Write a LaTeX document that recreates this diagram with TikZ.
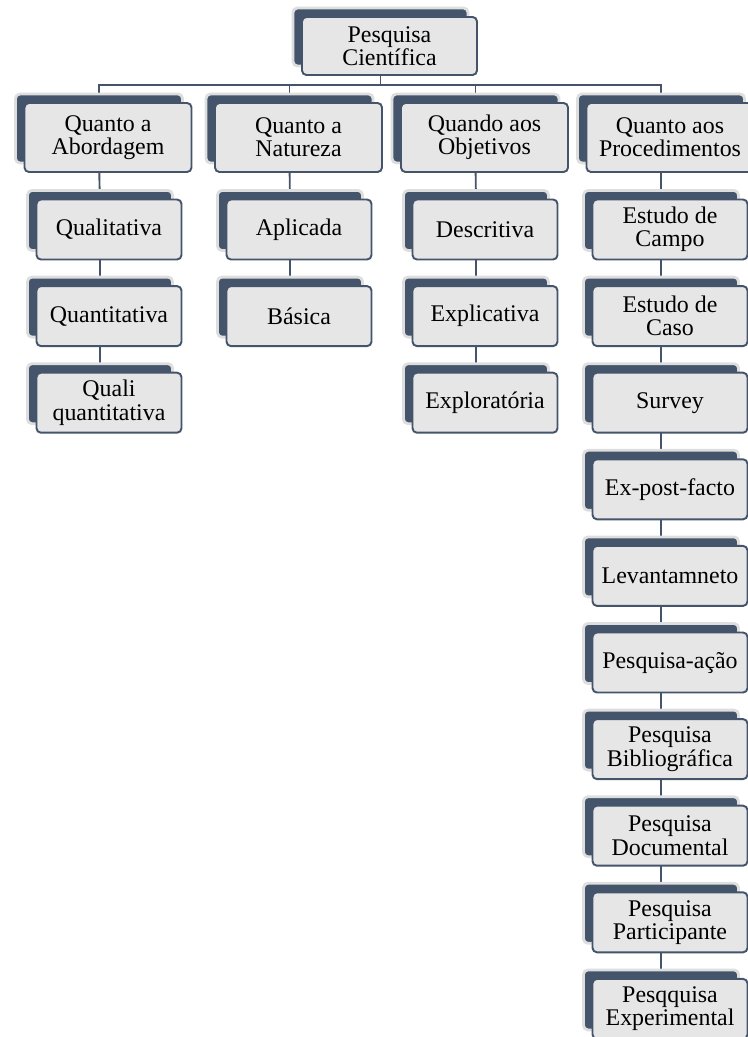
\documentclass[tikz,border=0pt]{standalone}
\usepackage{fontspec}
\setmainfont{Liberation Serif}
\usepackage{xcolor}
\usepackage{tikz}
\usetikzlibrary{calc, shadows, backgrounds}

\definecolor{slate}{HTML}{44546A}
\definecolor{boxgray}{HTML}{E7E6E6}
\definecolor{rimgray}{HTML}{DEDEDE}

\begin{document}
\begin{tikzpicture}[x=0.02cm, y=-0.02cm,
    cardbox/.style={draw=slate, fill=boxgray, line width=1.1pt, rounded corners=2.5pt,
        align=center, inner sep=1pt, font=\fontsize{13.6}{13.2}\selectfont,
        copy shadow={shadow xshift=-0.18cm, shadow yshift=0.18cm, fill=slate, draw=rimgray, line width=1.6pt}},
    rootbox/.style={cardbox, minimum width=3.5cm, minimum height=1.16cm},
    groupbox/.style={cardbox, minimum width=3.34cm, minimum height=1.38cm},
    itembox/.style={cardbox, minimum width=2.9cm, minimum height=1.2cm},
    wideitembox/.style={cardbox, minimum width=3.1cm, minimum height=1.2cm},
    link/.style={draw=slate, line width=1.1pt}]
    \useasboundingbox (0, 0) rectangle (747, 1037);

    \node[rootbox] at (389.5, 46) (science) {Pesquisa\\Científica};

    \node[groupbox] at (108, 137.5) (approach) {Quanto a\\Abordagem};
    \node[groupbox] at (298.5, 137.5) (nature) {Quanto a\\Natureza};
    \node[groupbox] at (484.5, 137.5) (goals) {Quando aos\\Objetivos};
    \node[groupbox] at (670, 137.5) (methods) {Quanto aos\\Procedimentos};

    \node[itembox] at (109, 229.5) (qualit) {Qualitativa};
    \node[itembox] at (109, 316.1) (quantit) {Quantitativa};
    \node[itembox] at (109, 402.7) (mixed) {Quali\\quantitativa};

    \node[itembox] at (299, 229.5) (applied) {Aplicada};
    \node[itembox] at (299, 316.1) (basic) {Básica};

    \node[itembox] at (485, 229.5) (descr) {Descritiva};
    \node[itembox] at (485, 316.1) (explan) {Explicativa};
    \node[itembox] at (485, 402.7) (explor) {Exploratória};

    \node[wideitembox] at (670, 229.5) (field) {Estudo de\\Campo};
    \node[wideitembox] at (670, 316.1) (casestudy) {Estudo de\\Caso};
    \node[wideitembox] at (670, 402.7) (survey) {Survey};
    \node[wideitembox] at (670, 489.3) (expost) {Ex-post-facto};
    \node[wideitembox] at (670, 575.9) (levant) {Levantamneto};
    \node[wideitembox] at (670, 662.5) (action) {Pesquisa-ação};
    \node[wideitembox] at (670, 749.1) (biblio) {Pesquisa\\Bibliográfica};
    \node[wideitembox] at (670, 835.7) (docum) {Pesquisa\\Documental};
    \node[wideitembox] at (670, 922.3) (particip) {Pesquisa\\Participante};
    \node[wideitembox] at (670, 1008.9) (experim) {Pesqquisa\\Experimental};

    \begin{scope}[on background layer]
    \draw[link] ($(science.south)+(-9,0)$) -- ++(0,9) -| ($(approach.north)+(-9,0)$);
    \draw[link] ($(science.south)+(-9,0)$) -- ++(0,9) -| ($(nature.north)+(-9,0)$);
    \draw[link] ($(science.south)+(-9,0)$) -- ++(0,9) -| ($(goals.north)+(-9,0)$);
    \draw[link] ($(science.south)+(-9,0)$) -- ++(0,9) -| ($(methods.north)+(-9,0)$);

    \draw[link] ($(approach)+(-9,0)$) -- ($(qualit)+(-9,0)$);
    \draw[link] ($(qualit)+(-9,0)$) -- ($(quantit)+(-9,0)$);
    \draw[link] ($(quantit)+(-9,0)$) -- ($(mixed)+(-9,0)$);

    \draw[link] ($(nature)+(-9,0)$) -- ($(applied)+(-9,0)$);
    \draw[link] ($(applied)+(-9,0)$) -- ($(basic)+(-9,0)$);

    \draw[link] ($(goals)+(-9,0)$) -- ($(descr)+(-9,0)$);
    \draw[link] ($(descr)+(-9,0)$) -- ($(explan)+(-9,0)$);
    \draw[link] ($(explan)+(-9,0)$) -- ($(explor)+(-9,0)$);

    \draw[link] ($(methods)+(-9,0)$) -- ($(field)+(-9,0)$);
    \draw[link] ($(field)+(-9,0)$) -- ($(casestudy)+(-9,0)$);
    \draw[link] ($(casestudy)+(-9,0)$) -- ($(survey)+(-9,0)$);
    \draw[link] ($(survey)+(-9,0)$) -- ($(expost)+(-9,0)$);
    \draw[link] ($(expost)+(-9,0)$) -- ($(levant)+(-9,0)$);
    \draw[link] ($(levant)+(-9,0)$) -- ($(action)+(-9,0)$);
    \draw[link] ($(action)+(-9,0)$) -- ($(biblio)+(-9,0)$);
    \draw[link] ($(biblio)+(-9,0)$) -- ($(docum)+(-9,0)$);
    \draw[link] ($(docum)+(-9,0)$) -- ($(particip)+(-9,0)$);
    \draw[link] ($(particip)+(-9,0)$) -- ($(experim)+(-9,0)$);
    \end{scope}
\end{tikzpicture}
\end{document}
